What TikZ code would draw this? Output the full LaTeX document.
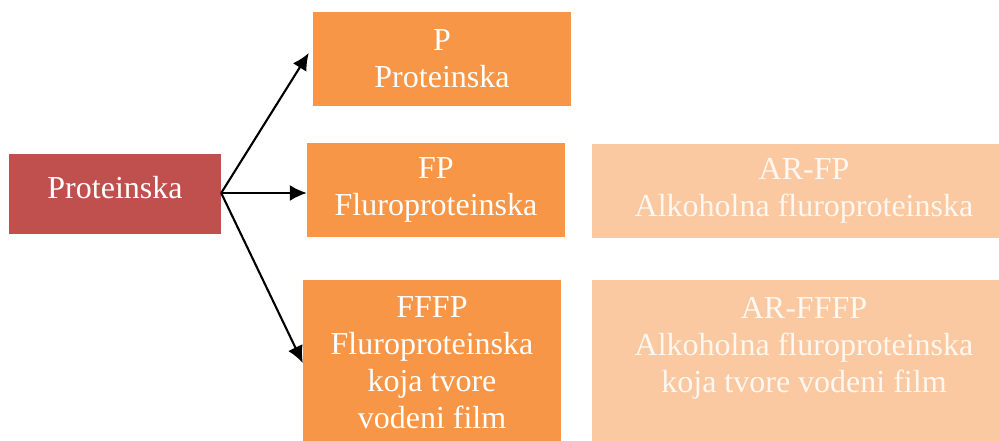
\documentclass[tikz,border=0pt]{standalone}
\usepackage{fontspec}
\setmainfont{Liberation Serif}
\usetikzlibrary{arrows.meta}
\definecolor{rootred}{HTML}{C0504D}
\definecolor{orng}{HTML}{F79646}
\definecolor{lorng}{HTML}{FAC9A1}
\definecolor{ltext}{HTML}{FFF7F0}
\begin{document}
\begin{tikzpicture}[x=1pt,y=-1pt,
  box/.style={rectangle, inner sep=0pt, align=center, text=white,
    font=\fontsize{32}{37}\selectfont},
  darkbox/.style={box, fill=orng, minimum width=258pt},
  lightbox/.style={box, fill=lorng, text=ltext, minimum width=424pt},
  conn/.style={line width=2.1pt, -{Latex[length=17pt,width=16pt]}}]
\useasboundingbox (0,0) rectangle (999,440);
\clip (0,0) rectangle (999,440);
\node[box, fill=rootred, minimum width=212pt, minimum height=80pt, text depth=13pt] (root) at (115,194) {Proteinska};
\node[darkbox, minimum height=94pt] (P) at (442,59) {P\\Proteinska};
\node[darkbox, minimum height=94pt] (FP) at (436,190) {FP\\Fluroproteinska};
\node[darkbox, minimum height=166pt] (FFFP) at (432,363) {FFFP\\Fluroproteinska\\koja tvore\\vodeni film};
\node[lightbox, minimum height=94pt] (ARFP) at (804,191) {AR-FP\\Alkoholna fluroproteinska};
\node[lightbox, minimum height=166pt] (ARFFFP) at (804,363) {AR-FFFP\\Alkoholna fluroproteinska\\koja tvore vodeni film\\\mbox{}};
\coordinate (src) at ([yshift=1pt]root.east);
\draw[conn] (src) -- ([xshift=-4pt,yshift=6pt]P.west);
\draw[conn] (src) -- (src -| FP.west);
\draw[conn] (src) -- (FFFP.west);
\end{tikzpicture}
\end{document}
